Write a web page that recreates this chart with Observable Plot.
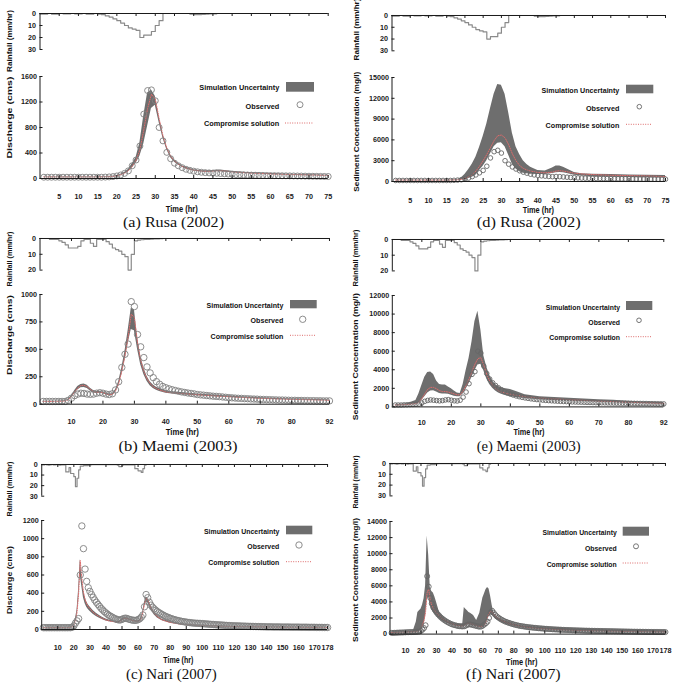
<!DOCTYPE html>
<html><head><meta charset="utf-8">
<script src="https://cdn.jsdelivr.net/npm/d3@7"></script>
<script src="https://cdn.jsdelivr.net/npm/@observablehq/plot@0.6"></script>
<style>
body{margin:0;background:#fff;}
#fig{position:relative;width:675px;height:687px;overflow:hidden;background:#fff;}
</style></head><body><div id="fig"></div>
<script>
// ---------------- DATA ----------------
// Hourly rainfall (mm/hr), index = hour (value covers the hour ending at index)
const rusaRain = [0,
 0.5,0.5,0,0.5,0.5,0,0.3,0.3,0,0.3,0.3,0,0.5,0.5,0,0.5,
 1,2,3,4.5,6,8,10,12,13,14,20,18,18,15,10,6,
 0,0,0,0,0,0,0,
 0.5,1,1,0.8,0.5,0.3,0.3,
 0,0,0,0,0,0,0,0,0,0,0,0,0,0,0,0,0,0,0,0,0,0,0,0,0,0,0,0,0];
const maemiRain = [0,
 0,0,0,0.5,0.5,0.5,1.5,2.5,4,6,
 6,6,5,1.5,0.5,0.5,3,5,0.5,0.5,
 0.5,2,3.5,6,7,8,10,11.5,20,10,
 1.5,1,0.8,0.6,0.5,0.4,0.3,0.2,0.1,0,
 0,0,0,0,0,0,0,0,0,0,0,0,0,0,0,0,0,0,0,0,0,0,0,0,0,0,
 0,0,0,0,0,0,0,0,0,0,0,0,0,0,0,0,0,0,0,0,0,0,0,0,0,0];
const nariRain = [0,
 0.3,0.3,0,0.3,0.5,0.3,0,0.3,0.3,0,0.3,0.5,0.3,0.3,
 0.3,7,7,3,8.5,8.5,11.5,21,13,5,1.5,1.5,1,1,1,
 0.5,0.3,0.2,0.2,0.2,0.2,0.2,0.2,0.2,0.2,0.2,0.2,0.2,0.2,0.2,0.2,0.2,0.2,0.5,
 2,2,
 0.5,0.3,0.3,0.3,0.3,0.3,0.3,0.3,
 4,4,6,6,7.5,4,0.5,
 0,0,0,0,0,0,0,0,0,0,0,0,0,0,0,0,0,0,0,0,0,0,0,0,0,0,0,0,0,0,0,0,0,0,0,0,0,0,
 0,0,0,0,0,0,0,0,0,0,0,0,0,0,0,0,0,0,0,0,0,0,0,0,0,0,0,0,0,0,0,0,0,0,0,0,0,0,
 0,0,0,0,0,0,0,0,0,0,0,0,0,0,0,0,0,0,0,0,0,0,0,0,0,0,0,0,0,0,0,0,0,0,0,0,0];

// Rusa (2002)
const rusaModelT = [1,5,10,15,18,19,20,21,22,23,24,25,26,27,28,29,30,31,32,33,34,35,36,37,38,40,42,44,45,46,47,48,50,52,55,60,65,70,75];
const rusaQobs = [20,20,20,20,20,20,20,20,20,20, 20,20,20,20,20,20,22,25,30,40,
 55,80,120,200,290,510,1010,1380,1390,1220, 800,590,410,310,240,200,170,145,128,115,
 105,98,92,88,85,82,78,74,70,66, 62,60,57,55,53,51,50,48,47,46,
 45,44,43,42,41,40,39,38,37,36, 35,34,33,32,31];
const rusaQcomp = [25,25,25,25,28,32,42,58,82,120,190,285,450,760,1100,1320,1250,940,670,480,350,275,225,190,165,130,115,112,118,122,122,118,105,95,85,72,62,55,48];
const rusaQlo = [22,22,22,22,25,29,38,52,72,105,165,240,350,540,820,1100,1150,880,630,450,325,255,210,175,150,118,102,98,102,105,106,102,92,84,75,64,55,49,43];
const rusaQhi = [28,28,28,28,32,36,48,65,95,140,230,330,560,980,1340,1390,1290,970,700,500,365,290,238,200,175,138,123,120,127,132,132,127,114,103,92,78,67,59,52];
const rusaSobs = [150,150,150,150,150,150,150,150,150,150, 150,150,150,150,150,150,170,200,250,350,
 500,700,950,1250,1600,2200,3400,4300,4500,4100, 3000,2500,2100,1800,1550,1350,1200,1050,950,880,
 820,770,730,700,720,700,660,620,580,550, 520,500,480,470,460,450,440,430,420,410,
 400,395,390,385,380,375,370,365,360,355, 350,345,340,335,330];
const rusaScomp = [200,200,200,200,230,300,450,700,1000,1500,2200,3000,3900,4900,5900,6600,6700,6300,5300,4000,3000,2300,1900,1650,1500,1300,1250,1350,1500,1550,1500,1400,1200,1100,1000,900,850,800,700];
const rusaSlo = [180,180,180,180,200,250,300,420,600,900,1600,2200,3000,4000,5000,5500,5600,5000,3800,2500,1800,1400,1200,1100,1050,1000,1000,1150,1250,1300,1250,1150,900,800,700,620,580,540,500];
const rusaShi = [220,220,220,220,280,500,1000,1700,2500,3500,4900,6500,8300,10500,12600,14000,13900,12600,9900,7000,5000,3900,3000,2450,2050,1600,1500,1950,2250,2250,2050,1800,1300,1120,1050,1000,950,900,850];

// Maemi (2003)
const maemiModelT = [1,5,8,9,10,11,12,13,14,15,16,17,18,19,20,21,22,23,24,25,26,27,28,29,30,31,32,33,34,35,36,37,38,40,42,45,50,55,60,65,70,75,80,85,92];
const maemiQobs = [25,25,25,25,25,25,25,25,35,55, 78,92,100,98,92,90,92,100,105,100,
 92,88,95,130,205,335,455,548,935,890, 635,523,425,340,285,242,206,182,162,150,
 140,132,125,118,112,107,102,98,94,88, 85,82,79,76,73,71,69,66,63,60,
 58,56,54,53,51,50,48,47,46,44, 43,42,41,40,39,38,38,37,36,35,
 35,34,34,33,33,32,32,31,31,30, 30,30];
const maemiQcomp = [25,25,28,40,70,110,148,170,172,160,135,115,108,110,105,95,85,88,120,185,300,440,610,820,790,560,400,300,232,188,160,142,130,112,104,97,86,76,68,60,53,48,44,40,35];
const maemiQlo = [23,23,25,35,60,95,130,150,152,142,120,103,98,100,96,87,78,80,108,165,270,400,550,680,670,500,360,270,208,168,143,126,115,100,93,87,77,68,61,54,48,43,39,36,32];
const maemiQhi = [27,27,31,45,78,122,162,180,183,172,146,125,116,118,112,102,92,96,132,205,330,480,670,875,860,610,440,330,255,205,175,155,142,122,114,106,94,83,74,66,58,52,48,44,38];
const maemiSobs = [200,200,200,220,230,250,260,280,300,420, 600,700,750,720,680,650,680,750,780,720,
 660,640,720,1050,1600,2500,3500,3800,6000,5800, 4400,3600,3000,2600,2300,2050,1850,1650,1500,1380,
 1270,1180,1100,1030,970,920,870,830,790,760, 730,700,680,660,640,620,600,585,570,555,
 540,530,520,510,500,490,480,470,460,450, 445,440,430,425,420,410,405,400,395,390,
 385,380,375,370,365,360,350,345,340,335, 330,320];
const maemiScomp = [200,250,350,500,900,1400,1900,2100,2100,1950,1750,1650,1650,1600,1500,1400,1300,1300,1700,2300,3000,3800,4600,5200,5300,4500,3500,2800,2300,2000,1750,1600,1500,1350,1250,1100,950,850,780,700,630,560,500,440,380];
const maemiSlo = [180,220,300,420,700,1100,1500,1700,1750,1600,1450,1400,1400,1350,1250,1150,1100,1100,1400,1900,2500,3200,3900,4500,4600,3900,3000,2400,2000,1700,1500,1350,1250,1100,1000,900,780,700,640,580,520,460,410,360,310];
const maemiShi = [230,350,700,1400,2300,3200,3700,3750,3500,2800,2400,2350,2350,2150,1950,1700,1500,1450,2400,3900,5200,7000,9200,10300,8300,5500,4300,3400,2800,2400,2200,2050,1980,1870,1650,1300,1080,1000,920,850,780,720,620,540,470];

// Nari (2007)
const nariModelT = [1,10,15,17,18,19,20,21,22,23,24,25,26,27,28,29,30,32,34,36,38,40,42,45,47,48,49,50,51,52,54,56,58,60,61,62,63,64,65,66,67,68,70,72,75,80,85,90,95,100,110,120,130,140,150,160,170,178];
const nariQobs = [20,20,20,20,20,20,20,20,20,20, 20,20,20,20,20,20,20,20,25,40,
 70,95,120,600,1140,890,665,530,460,420, 385,355,325,300,277,255,233,215,197,182,
 168,155,145,135,125,117,110,105,105,112, 120,125,122,115,110,105,102,100,102,108,
 118,135,160,250,385,350,300,268,245,228, 212,198,186,175,165,155,146,138,131,124,
 118,112,107,102,98,94,90,87,84,81, 78,76,74,72,70,69,68,67,66,65,
 63,62,60,59,57,56,55,53,52,51, 50,49,48,46,45,44,43,42,41,40,
 40,39,39,38,37,37,36,35,35,34, 34,33,33,32,32,31,31,30,30,29,
 29,29,29,28,28,28,28,28,27,27, 27,27,27,27,26,26,26,26,26,26,
 25,25,25,25,25,24,24,24,24,24, 23,23,23,23,22,22,22,22];
const nariQcomp = [20,20,20,22,25,32,50,100,190,400,760,560,410,330,280,250,228,190,162,140,120,105,95,85,80,82,90,105,118,122,115,102,92,88,95,120,190,280,340,330,285,240,180,140,105,78,62,52,46,42,36,32,29,27,25,24,23,22];
const nariQlo = [18,18,18,20,22,28,42,80,150,320,600,470,350,285,245,220,200,168,143,124,107,94,85,76,72,73,80,95,107,110,104,92,83,78,84,105,165,245,300,295,255,215,162,126,95,70,56,47,41,38,32,29,26,24,22,21,20,19];
const nariQhi = [22,22,22,24,28,36,58,115,215,440,770,590,440,355,305,272,250,208,178,154,132,115,104,93,88,90,99,115,128,133,125,111,100,96,104,132,205,300,355,348,305,258,195,152,114,85,68,57,50,46,40,35,32,30,28,26,25,24];
const nariSobs = [150,150,160,170,180,190,200,200,210,220, 230,240,250,250,260,270,280,300,320,400,
 550,750,1100,7200,5900,4500,3800,3300,3000,2700, 2450,2250,2050,1900,1750,1620,1500,1400,1300,1220,
 1150,1100,1050,1000,980,960,950,970,1050,1150, 1200,1200,1150,1100,1050,1000,950,920,950,1050,
 1200,1350,1550,2000,2700,2900,2650,2400,2200,2050, 1920,1800,1700,1600,1520,1450,1380,1320,1260,1200,
 1150,1100,1060,1020,990,960,930,900,870,850, 830,810,790,770,750,730,715,700,685,670,
 655,640,628,615,600,590,580,570,560,550, 540,530,520,512,505,498,490,483,476,470,
 464,458,452,446,440,435,430,425,420,415, 410,405,400,396,392,388,384,380,376,372,
 368,364,360,356,352,348,344,340,336,332, 328,324,320,316,312,308,305,302,299,296,
 293,290,287,284,281,278,275,272,270,268, 266,264,262,260,258,256,254,252];
const nariScomp = [200,250,280,300,350,450,700,1100,1700,2800,5200,5600,4200,3600,3200,2900,2650,2250,1900,1650,1450,1300,1150,1050,1000,1100,1250,1350,1350,1300,1200,1050,950,950,1100,1500,2100,2600,2800,2750,2500,2250,1950,1700,1450,1150,950,820,720,640,530,460,410,370,340,310,290,270];
const nariSlo = [150,200,230,250,280,350,500,800,1200,2200,4300,4600,3500,3000,2700,2450,2250,1900,1600,1400,1250,1100,1000,900,870,950,1050,1150,1150,1100,1000,900,820,820,950,1250,1750,2200,2400,2350,2150,1950,1700,1480,1250,1000,820,710,620,560,460,400,355,320,295,270,250,235];
const nariShi = [250,300,350,1500,2700,2900,3100,3600,4400,6000,12200,9800,5800,5300,5100,4600,4000,2700,2200,1800,1550,1400,1260,1230,1260,3300,3100,2900,2700,2600,2300,1700,2600,4500,5000,5500,5800,5600,4700,3600,2700,2400,2000,1800,1600,1250,1050,930,850,800,700,620,560,500,470,440,420,400];

// Tick values
const xTicksRusa = [5,10,15,20,25,30,35,40,45,50,55,60,65,70,75];
const xTicksMaemi = [10,20,30,40,50,60,70,80,92];
const xTicksNari = [10,20,30,40,50,60,70,80,90,100,110,120,130,140,150,160,170,178];
const rainTicks30 = [0,10,20,30];
const rainTicks20 = [0,10,20];
const yTicksA = [0,400,800,1200,1600];
const yTicksD = [0,3000,6000,9000,12000,15000];
const yTicksB = [0,250,500,750,1000];
const yTicksE = [0,2000,4000,6000,8000,10000,12000];
const yTicksC = [0,200,400,600,800,1000,1200];
const yTicksF = [0,2000,4000,6000,8000,10000,12000,14000];

// Text
const lblRain = "Rainfall (mm/hr)";
const lblQ = "Discharge (cms)";
const lblS = "Sediment Concentration (mg/l)";
const lblTime = "Time (hr)";
const legendNames = ["Simulation Uncertainty", "Observed", "Compromise solution"];

// ---------------- LAYOUT ----------------
const fig = document.getElementById("fig");
const BAND = "#6e6e6e", RED = "#dd6b6b", AX = "#1a1a1a";
const FONT = "'Liberation Sans', Arial, sans-serif";
const DASH = "1,1.4";

const panels = [
 {id:"a", left:0, x0:39.5, x1:327.7, xMax:75, xTicks:xTicksRusa, rain:rusaRain, r0:13, r1:49, rMax:30, rTicks:rainTicks30,
  m0:76, m1:178, yMax:1600, yTicks:yTicksA, xOff:18, modelT:rusaModelT, comp:rusaQcomp, lo:rusaQlo, hi:rusaQhi, obs:rusaQobs, r:3, dot:"#808080",
  caption:"(a) Rusa (2002)", cap:[173.5,222.5,101], time:[181.7,208.7,32], yl:[lblRain,9.3,41,62, lblQ,9.3,117.5,82],
  leg:{end:279.3, ty:[87.5,106,123.3], tl:[80,33.7,75.3], rect:[286,82,28,9.7], circ:[300,104.7], line:[285,313,123]}},
 {id:"d", left:337, x0:391.5, x1:665, xMax:75, xTicks:xTicksRusa, rain:rusaRain, r0:14.7, r1:50, rMax:30, rTicks:rainTicks30,
  m0:77, m1:181, yMax:15000, yTicks:yTicksD, xOff:19, modelT:rusaModelT, comp:rusaScomp, lo:rusaSlo, hi:rusaShi, obs:rusaSobs, r:2.3, dot:"#666",
  caption:"(d) Rusa (2002)", cap:[528.7,222.7,104], time:[538.3,210,31.3], yl:[lblRain,356,29.5,62, lblS,356,131.7,120],
  leg:{end:619.3, ty:[90.3,108,125.7], tl:[77.7,33.3,73.7], rect:[626,84.7,27.3,8.6], circ:[639.3,106.7], line:[626,652,124.3]}},
 {id:"b", left:0, x0:39.5, x1:329, xMax:92, xTicks:xTicksMaemi, rain:maemiRain, r0:237.7, r1:269.3, rMax:20, rTicks:rainTicks20,
  m0:294.3, m1:404, yMax:1000, yTicks:yTicksB, xOff:16.7, modelT:maemiModelT, comp:maemiQcomp, lo:maemiQlo, hi:maemiQhi, obs:maemiQobs, r:3.2, dot:"#808080",
  caption:"(b) Maemi (2003)", cap:[178,446.7,119], time:[182.3,432.3,33.3], yl:[lblRain,9.3,259,55, lblQ,9.3,335,80],
  leg:{end:283.3, ty:[305.3,320.7,336.7], tl:[76.7,32.7,72.7], rect:[290,300,26.7,8.3], circ:[302.7,319.3], line:[290,316,335.3]}},
 {id:"e", left:337, x0:391.8, x1:663.3, xMax:92, xTicks:xTicksMaemi, rain:maemiRain, r0:239.3, r1:270.7, rMax:20, rTicks:rainTicks20,
  m0:295.3, m1:406.7, yMax:12000, yTicks:yTicksE, xOff:15.6, modelT:maemiModelT, comp:maemiScomp, lo:maemiSlo, hi:maemiShi, obs:maemiSobs, r:2.3, dot:"#666",
  caption:"(e) Maemi (2003)", cap:[528.7,446.7,104], time:[529,432,31], yl:[lblRain,355,258,57, lblS,355,356.7,127],
  leg:{end:620, ty:[307,322.3,337.7], tl:[74.3,31.7,70.7], rect:[626,301,26.3,9], circ:[639,320.3], line:[626,652,336.7]}},
 {id:"c", left:0, x0:41.2, x1:327.1, xMax:178, xTicks:xTicksNari, rain:nariRain, r0:464, r1:495.7, rMax:30, rTicks:rainTicks30,
  m0:520.3, m1:629.3, yMax:1200, yTicks:yTicksC, xOff:17.4, modelT:nariModelT, comp:nariQcomp, lo:nariQlo, hi:nariQhi, obs:nariQobs, r:3.2, dot:"#808080",
  caption:"(c) Nari (2007)", cap:[171.3,674,90.7], time:[178.3,659.7,30], yl:[lblRain,9.3,489,55, lblQ,9.3,580,68],
  leg:{end:279.3, ty:[531.3,546.7,562.3], tl:[75.3,32,71], rect:[286,525.7,26.3,8.6], circ:[299,545], line:[286,311,561.7]}},
 {id:"f", left:337, x0:389.5, x1:665, xMax:178, xTicks:xTicksNari, rain:nariRain, r0:463.3, r1:495.7, rMax:30, rTicks:rainTicks30,
  m0:520.7, m1:633.3, yMax:14000, yTicks:yTicksF, xOff:16, modelT:nariModelT, comp:nariScomp, lo:nariSlo, hi:nariShi, obs:nariSobs, r:2.5, dot:"#666",
  caption:"(f) Nari (2007)", cap:[513.3,674.3,94.7], time:[521.7,662.3,31.3], yl:[lblRain,355,482,53, lblS,355,580,124],
  leg:{end:616.7, ty:[532.7,548.3,564], tl:[74.3,31.7,70], rect:[622.7,526.7,26.3,9], circ:[636,546.3], line:[622.7,649,563]}}
];

const W = 338;
const baseStyle = {fontFamily: FONT, fontSize: "7.2px", fontWeight: "bold", color: AX, background: "transparent", overflow: "visible"};
const plain = d => String(d);

function place(el, left, top) {
  el.style.position = "absolute"; el.style.left = left + "px"; el.style.top = top + "px";
  fig.appendChild(el);
}

for (const c of panels) {
  const mL = c.x0 - c.left, mR = c.left + W - c.x1;
  const innerW = c.x1 - c.x0;
  // Rainfall hyetograph
  const rainData = c.rain.map((v, i) => ({h: i, v}));
  const rInnerH = c.r1 - c.r0;
  const rain = Plot.plot({
    width: W, height: rInnerH + 14, marginLeft: mL, marginRight: mR, marginTop: 8, marginBottom: 6,
    x: {domain: [0, c.xMax], axis: null}, y: {domain: [0, c.rMax], reverse: true},
    style: baseStyle,
    marks: [
      Plot.line(rainData, {x: "h", y: "v", curve: "step-before", stroke: "#8a8a8a", strokeWidth: 1.2}),
      Plot.ruleY([0], {stroke: AX}),
      Plot.ruleX([0], {stroke: AX}),
      Plot.tickX(c.xTicks, {x: d => d, insetBottom: rInnerH - 3, stroke: AX}),
      Plot.tickY(c.rTicks, {y: d => d, insetRight: innerW - 3, stroke: AX}),
      Plot.axisY(c.rTicks, {tickSize: 0, tickPadding: 4, label: null, tickFormat: plain})
    ]
  });
  place(rain, c.left, c.r0 - 8);

  // Main chart
  const model = c.modelT.map((t, i) => ({t, lo: c.lo[i], hi: c.hi[i], comp: c.comp[i]}));
  const obs = c.obs.map((v, i) => ({t: i + 1, v}));
  const innerH = c.m1 - c.m0;
  const main = Plot.plot({
    width: W, height: innerH + 42, marginLeft: mL, marginRight: mR, marginTop: 12, marginBottom: 30,
    x: {domain: [0, c.xMax]}, y: {domain: [0, c.yMax]},
    style: baseStyle,
    marks: [
      Plot.areaY(model, {x: "t", y1: "lo", y2: "hi", fill: BAND}),
      Plot.line(model, {x: "t", y: "comp", stroke: RED, strokeWidth: 1, strokeDasharray: DASH}),
      Plot.dot(obs, {x: "t", y: "v", r: c.r, stroke: c.dot, strokeWidth: 0.9, fill: "none"}),
      Plot.ruleX([0], {stroke: AX}),
      Plot.ruleY([0], {stroke: AX}),
      Plot.tickX(c.xTicks, {x: d => d, insetTop: innerH - 3, stroke: AX}),
      Plot.tickY(c.yTicks, {y: d => d, insetRight: innerW - 3, stroke: AX}),
      Plot.axisX(c.xTicks, {tickSize: 0, tickPadding: c.xOff - 2.5, label: null, tickFormat: plain}),
      Plot.axisY(c.yTicks, {tickSize: 0, tickPadding: 3, label: null, tickFormat: plain})
    ]
  });
  place(main, c.left, c.m0 - 12);
}

// ---------------- OVERLAY: labels, legends, captions ----------------
const NS = "http://www.w3.org/2000/svg";
const ov = document.createElementNS(NS, "svg");
ov.setAttribute("width", 675); ov.setAttribute("height", 687);
ov.style.position = "absolute"; ov.style.left = "0px"; ov.style.top = "0px";
fig.appendChild(ov);
function el(name, attrs, text) {
  const e = document.createElementNS(NS, name);
  for (const k in attrs) e.setAttribute(k, attrs[k]);
  if (text != null) e.textContent = text;
  ov.appendChild(e); return e;
}
function label(str, x, y, len, opts = {}) {
  const a = {x: 0, y: 0, "text-anchor": opts.anchor || "middle", "dominant-baseline": "central",
    "font-family": opts.family || FONT, "font-size": opts.size || 8, "font-weight": opts.weight || "bold",
    fill: "#111", textLength: len, lengthAdjust: "spacingAndGlyphs",
    transform: `translate(${x},${y})` + (opts.rotate ? " rotate(-90)" : "")};
  return el("text", a, str);
}
for (const c of panels) {
  label(c.yl[0], c.yl[1], c.yl[2], c.yl[3], {rotate: true, size: 8});
  label(c.yl[4], c.yl[5], c.yl[6], c.yl[7], {rotate: true, size: 8});
  label(lblTime, c.time[0], c.time[1], c.time[2], {size: 8.5});
  label(c.caption, c.cap[0], c.cap[1], c.cap[2], {size: 14, weight: "normal", family: "'Liberation Serif','DejaVu Serif',serif"});
  const L = c.leg;
  legendNames.forEach((n, i) => label(n, L.end, L.ty[i], L.tl[i], {anchor: "end", size: 8}));
  el("rect", {x: L.rect[0], y: L.rect[1], width: L.rect[2], height: L.rect[3], fill: BAND});
  el("circle", {cx: L.circ[0], cy: L.circ[1], r: c.r, fill: "none", stroke: c.dot, "stroke-width": 0.9});
  el("line", {x1: L.line[0], x2: L.line[1], y1: L.line[2], y2: L.line[2], stroke: RED, "stroke-width": 1, "stroke-dasharray": DASH});
}
</script></body></html>
